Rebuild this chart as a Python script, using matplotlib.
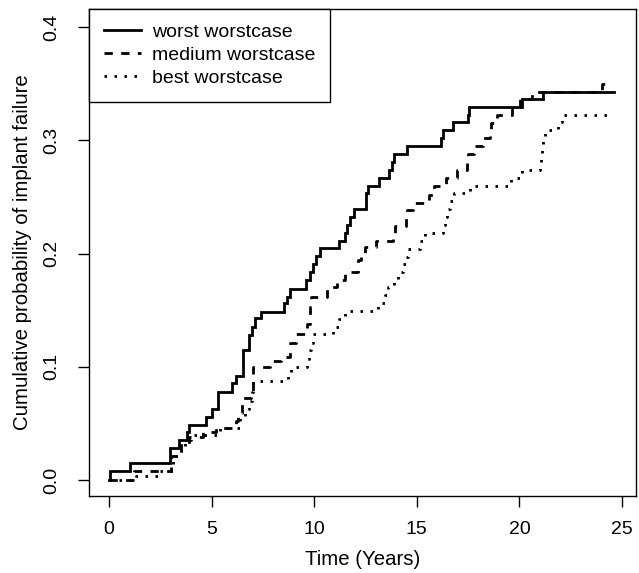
import matplotlib
matplotlib.use("Agg")
import matplotlib.pyplot as plt

plt.rcParams['font.family'] = ['Liberation Sans', 'DejaVu Sans']

######################################################################
# Step data (time in years, cumulative prob.)
worst_t = [0, 0.05, 1.02, 2.97, 3.4, 3.8, 3.9, 4.7, 5.0, 5.3, 6.0, 6.2,
           6.55, 6.8, 6.95, 7.1, 7.4, 8.5, 8.65, 8.82, 9.6, 9.8, 9.96,
           10.1, 10.28, 11.2, 11.5, 11.6, 11.75, 11.95, 12.5, 12.6, 13.17,
           13.66, 13.8, 13.9, 14.54, 16.18, 16.25, 16.78, 17.51, 17.55,
           20.1, 21.17, 24.63]
worst_p = [0, 0.008, 0.015, 0.028, 0.035, 0.042, 0.049, 0.056, 0.063,
           0.078, 0.086, 0.092, 0.115, 0.128, 0.135, 0.143, 0.148, 0.156,
           0.162, 0.169, 0.177, 0.184, 0.191, 0.198, 0.205, 0.211, 0.218,
           0.225, 0.232, 0.239, 0.253, 0.260, 0.267, 0.274, 0.281, 0.288,
           0.295, 0.302, 0.309, 0.316, 0.322, 0.329, 0.336, 0.343, 0.343]

medium_t = [0, 1.2, 3.0, 3.5, 3.9, 4.6, 5.2, 6.2, 6.3, 6.5, 6.9, 7.03,
            7.85, 8.4, 8.82, 9.1, 9.63, 9.8, 9.86, 10.6, 11.1, 11.5, 12.15,
            12.3, 12.45, 13.0, 13.86, 13.95, 14.45, 14.5, 14.8, 15.6, 15.85,
            16.4, 16.95, 17.45, 17.5, 17.8, 18.2, 18.55, 18.6, 18.9, 19.65,
            20.05, 20.6, 24.0, 24.35]
medium_p = [0, 0.008, 0.021, 0.031, 0.038, 0.042, 0.046, 0.052, 0.059,
            0.072, 0.079, 0.100, 0.105, 0.109, 0.121, 0.129, 0.138, 0.153,
            0.162, 0.170, 0.177, 0.184, 0.194, 0.200, 0.206, 0.211, 0.218,
            0.224, 0.231, 0.238, 0.245, 0.252, 0.260, 0.267, 0.274, 0.281,
            0.288, 0.295, 0.302, 0.309, 0.315, 0.322, 0.329, 0.336, 0.343,
            0.350, 0.350]

best_t = [0, 1.3, 2.4, 3.1, 3.5, 3.7, 4.0, 5.4, 6.4, 6.6, 6.8, 6.95, 7.03,
          8.7, 8.85, 9.0, 9.65, 9.75, 9.85, 9.95, 10.9, 11.2, 11.5, 13.1,
          13.45, 13.6, 13.9, 14.1, 14.3, 14.45, 14.55, 15.15, 15.4, 16.25,
          16.35, 16.45, 16.6, 16.8, 17.6, 19.6, 20.1, 21.02, 21.06, 21.1,
          21.15, 21.25, 21.9, 22.05, 24.6]
best_p = [0, 0.004, 0.008, 0.021, 0.028, 0.035, 0.040, 0.046, 0.055, 0.063,
          0.070, 0.078, 0.087, 0.094, 0.100, 0.100, 0.107, 0.115, 0.121,
          0.129, 0.135, 0.142, 0.149, 0.156, 0.163, 0.170, 0.177, 0.184,
          0.191, 0.197, 0.204, 0.211, 0.218, 0.225, 0.232, 0.239, 0.246,
          0.253, 0.260, 0.267, 0.274, 0.281, 0.288, 0.295, 0.302, 0.309,
          0.316, 0.322, 0.322]

labels = ["worst worstcase", "medium worstcase", "best worstcase"]
x_ticks = [0, 5, 10, 15, 20, 25]
y_ticks = [0.0, 0.1, 0.2, 0.3, 0.4]

fig = plt.figure(figsize=(6.39, 5.73), dpi=100)
ax = fig.add_axes([89 / 639, 77 / 573, 547 / 639, 487 / 573])

ax.step(worst_t, worst_p, where='post', color='black', lw=2,
        solid_joinstyle='miter', label=labels[0])
ax.step(medium_t, medium_p, where='post', color='black', lw=2,
        dashes=(3, 3), label=labels[1])
ax.step(best_t, best_p, where='post', color='black', lw=2,
        dashes=(0.9, 2.7), label=labels[2])

ax.set_xlim(-0.98, 25.68)
ax.set_ylim(-0.0141, 0.4159)
ax.set_xticks(x_ticks)
ax.set_yticks(y_ticks)
ax.set_xticklabels([str(v) for v in x_ticks])
ax.set_yticklabels(["%.1f" % v for v in y_ticks])
ax.tick_params(length=8, width=1, labelsize=14, direction='out')
ax.tick_params(axis='x', pad=10)
ax.tick_params(axis='y', pad=12.5, labelrotation=90)
for lab in ax.get_yticklabels():
    lab.set_va('center')
for s in ax.spines.values():
    s.set_linewidth(1)

ax.set_xlabel("Time (Years)", fontsize=14.7, labelpad=8.5)
ax.set_ylabel("Cumulative probability of implant failure", fontsize=14.7,
              labelpad=8.5)

leg = ax.legend(loc='upper left', bbox_to_anchor=(0, 1), borderaxespad=0,
                fancybox=False, edgecolor='black', framealpha=1,
                fontsize=14, handlelength=1.9, handletextpad=0.57,
                borderpad=0.75, labelspacing=0.28)
leg.get_frame().set_linewidth(1)

fig.savefig("out.png", dpi=100)
